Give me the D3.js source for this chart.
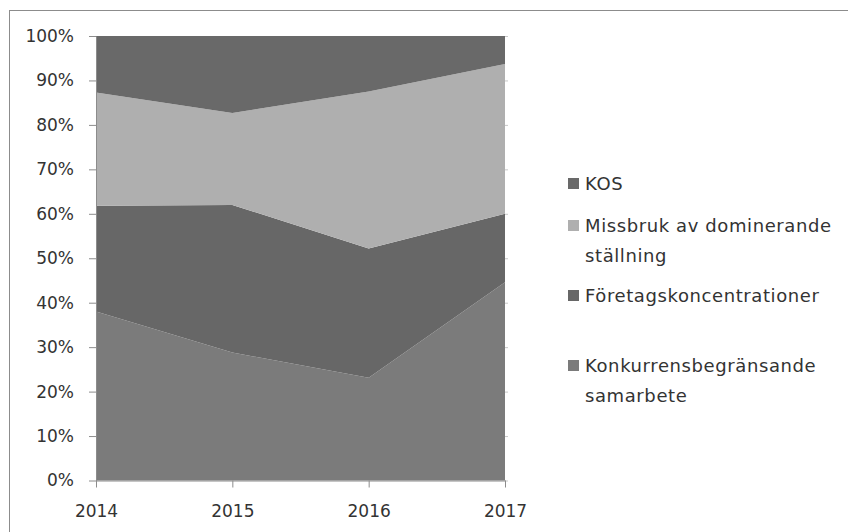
<!DOCTYPE html>
<html>
<head>
<meta charset="utf-8">
<script src="https://cdn.jsdelivr.net/npm/d3@7"></script>
<style>
    body { margin: 0; background: #fff; }
    svg { display: block; }
    .axis text { font-family: "DejaVu Sans", sans-serif; font-size: 17px; fill: #333; }
    .legend text { font-family: "DejaVu Sans", sans-serif; font-size: 18px; letter-spacing: 0.6px; fill: #333; }
</style>
</head>
<body>
<div id="chart"></div>
<script>
    // Data
    var years = ['2014', '2015', '2016', '2017'];
    var seriesNames = ['Konkurrensbegränsande samarbete', 'Företagskoncentrationer', 'Missbruk av dominerande ställning', 'KOS'];
    var konkurrens = [38.0, 28.8, 23.1, 44.6];
    var foretag = [23.8, 33.2, 29.1, 15.4];
    var missbruk = [25.5, 20.7, 35.3, 33.7];
    var kos = [12.7, 17.3, 12.5, 6.3];
    var yTicks = [0, 10, 20, 30, 40, 50, 60, 70, 80, 90, 100];
    var colors = ['#7b7b7b', '#676767', '#afafaf', '#696969'];

    // Legend items, top to bottom
    var legendItems = [
        { key: 3, lines: ['KOS'] },
        { key: 2, lines: ['Missbruk av dominerande', 'ställning'] },
        { key: 1, lines: ['Företagskoncentrationer'] },
        { key: 0, lines: ['Konkurrensbegränsande', 'samarbete'] }
    ];

    var width = 848, height = 532;
    var margin = { top: 36, left: 96 };
    var plotW = 409, plotH = 444.5;

    var table = years.map(function(y, i) {
        return { year: y, s0: konkurrens[i], s1: foretag[i], s2: missbruk[i], s3: kos[i] };
    });
    var stack = d3.stack().keys(['s0', 's1', 's2', 's3']);
    var layers = stack(table);

    var svg = d3.select('#chart').append('svg')
        .attr('width', width).attr('height', height);

    // Outer frame
    svg.append('rect')
        .attr('x', 9.5).attr('y', 10.5)
        .attr('width', 900).attr('height', 600)
        .attr('fill', 'none').attr('stroke', '#8c8c8c');

    var g = svg.append('g')
        .attr('transform', 'translate(' + margin.left + ',' + margin.top + ')');

    var x = d3.scalePoint().domain(years).range([0, plotW]);
    var y = d3.scaleLinear().domain([0, 100]).range([plotH, 0]);

    // Areas
    var area = d3.area()
        .x(function(d) { return x(d.data.year); })
        .y0(function(d) { return y(d[0]); })
        .y1(function(d) { return y(d[1]); });

    g.append('g').attr('class', 'areas')
        .selectAll('path').data(layers).enter()
        .append('path')
        .attr('d', area)
        .attr('fill', function(d, i) { return colors[i]; });

    // Faint right-side tick marks
    g.append('g')
        .attr('transform', 'translate(' + plotW + ',0)')
        .call(d3.axisRight(y).tickValues(yTicks).tickSize(3).tickFormat(''))
        .call(function(s) {
            s.select('.domain').remove();
            s.selectAll('line').attr('stroke', '#c8c8c8');
        });

    // Y axis
    g.append('g').attr('class', 'axis y')
        .call(d3.axisLeft(y).tickValues(yTicks).tickSize(7).tickSizeOuter(0).tickPadding(15)
            .tickFormat(function(d) { return d + '%'; }))
        .call(function(s) {
            s.selectAll('line, .domain').attr('stroke', '#8c8c8c');
        });

    // X axis
    g.append('g').attr('class', 'axis x')
        .attr('transform', 'translate(0,' + plotH + ')')
        .call(d3.axisBottom(x).tickSize(7).tickSizeOuter(0).tickPadding(17))
        .call(function(s) {
            s.selectAll('line, .domain').attr('stroke', '#8c8c8c');
        });

    // Legend
    var legendY = [184, 226, 296, 366];
    var lg = svg.append('g').attr('class', 'legend');
    legendItems.forEach(function(item, i) {
        var cy = legendY[i];
        lg.append('rect')
            .attr('x', 568).attr('y', cy - 6)
            .attr('width', 11).attr('height', 11)
            .attr('fill', colors[item.key]);
        item.lines.forEach(function(line, j) {
            lg.append('text')
                .attr('x', 585).attr('y', cy + 6 + j * 30)
                .text(line);
        });
    });
</script>
</body>
</html>
